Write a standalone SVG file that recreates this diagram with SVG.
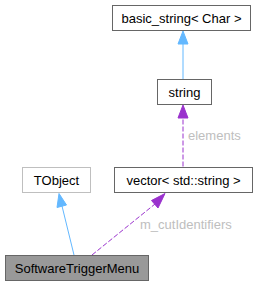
<svg xmlns="http://www.w3.org/2000/svg" width="261" height="287" viewBox="0 0 261 287">
<defs>
<style>
.box{fill:#ffffff;stroke:#666666;stroke-width:1}
.t{font-family:"Liberation Sans",Arial,sans-serif;font-size:13px;fill:#000000;text-anchor:middle}
.lbl{font-family:"Liberation Sans",Arial,sans-serif;font-size:13px;fill:#bebebe;text-anchor:start}
.inh{fill:none;stroke:#63b8ff;stroke-width:1}
.use{fill:none;stroke:#9a32cd;stroke-width:1;stroke-dasharray:5,2}
</style>
</defs>
<rect width="261" height="287" fill="#ffffff"/>
<g id="edges">
<path class="inh" d="M183,79V44"/>
<polygon points="178,44 183,31 188,44" fill="#63b8ff" stroke="#63b8ff"/>
<path class="use" d="M183,166.5V118"/>
<polygon points="178,118 183,105 188,118" fill="#9a32cd" stroke="#9a32cd"/>
<text class="lbl" x="188" y="140">elements</text>
<path class="inh" d="M74,255L62,206"/>
<polygon points="57,207.5 59,193.5 66.5,205" fill="#63b8ff" stroke="#63b8ff"/>
<path class="use" d="M92,255L155,204"/>
<polygon points="151.5,200.5 165,193.5 158,208" fill="#9a32cd" stroke="#9a32cd"/>
<text class="lbl" x="140" y="229">m_cutIdentifiers</text>
</g>
<g id="basic_string">
<rect class="box" x="112.5" y="5.5" width="138" height="25"/>
<text class="t" x="181.5" y="22.5">basic_string&lt; Char &gt;</text>
</g>
<g id="string">
<rect class="box" x="157.5" y="79.5" width="54" height="25"/>
<text class="t" x="184.5" y="96.5">string</text>
</g>
<g id="TObject">
<rect class="box" x="22.5" y="167.5" width="68" height="25" style="stroke:#bfbfbf"/>
<text class="t" x="56.5" y="184.5">TObject</text>
</g>
<g id="vector">
<rect class="box" x="114.5" y="167.5" width="138" height="25"/>
<text class="t" x="183.5" y="184.5">vector&lt; std::string &gt;</text>
</g>
<g id="SoftwareTriggerMenu">
<rect class="box" x="5.5" y="255.5" width="143" height="25" style="fill:#999999"/>
<text class="t" x="77" y="272.5">SoftwareTriggerMenu</text>
</g>
</svg>
